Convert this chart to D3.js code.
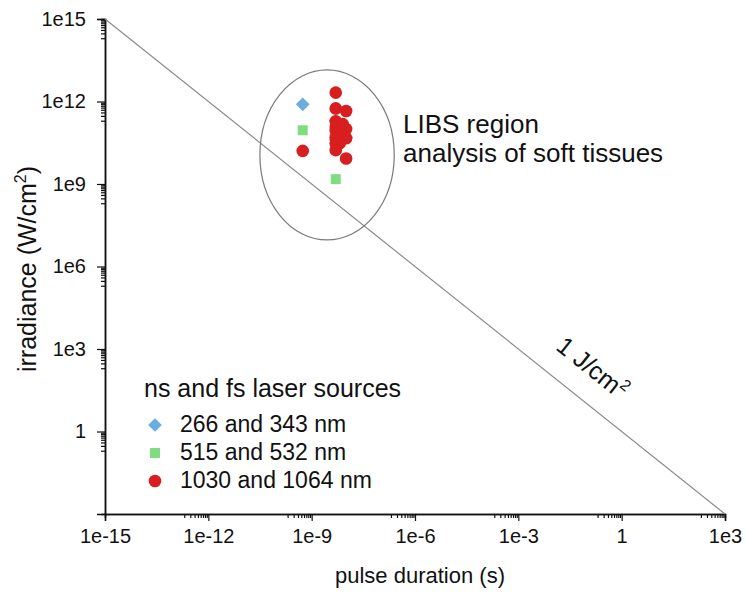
<!DOCTYPE html>
<html>
<head>
<meta charset="utf-8">
<script src="https://cdn.jsdelivr.net/npm/d3@7"></script>
<style>
  body { margin: 0; background: #fff; }
  svg text { font-family: "Liberation Sans", Arial, sans-serif; fill: #111; }
</style>
</head>
<body>
<div id="container"></div>
<script>
// tick values (log axes, a major tick every 3 decades)
const xTicks = [1e-15, 1e-12, 1e-9, 1e-6, 1e-3, 1, 1e3];
const xTickLabels = ['1e-15', '1e-12', '1e-9', '1e-6', '1e-3', '1', '1e3'];
const yTicks = [1e15, 1e12, 1e9, 1e6, 1e3, 1];
const yTickLabels = ['1e15', '1e12', '1e9', '1e6', '1e3', '1'];

// 266 and 343 nm (some hidden under the red points)
const uvPulse = [5.5e-10, 5e-9, 5e-9, 1e-8];
const uvIrr   = [7.9e11, 2e11, 4e10, 5e10];
// 515 and 532 nm
const greenPulse = [5.5e-10, 5e-9];
const greenIrr   = [9e10, 1.5e9];
// 1030 and 1064 nm
const irPulse = [5.5e-10, 5e-9, 5e-9, 1e-8, 5e-9, 1e-8, 5e-9, 6e-9, 1e-8, 5e-9, 6.5e-9, 5e-9, 1e-8, 5e-9, 6e-9, 8e-9, 5e-9];
const irIrr   = [1.6e10, 2.1e12, 5.6e11, 4.5e11, 1.9e11, 1e11, 9e10, 5.3e10, 4.6e10, 3e10, 3e10, 1.7e10, 8.5e9, 1.2e11, 7e10, 1.5e11, 5e10];

// 1 J/cm2 line
const fluencePulse = [1e-15, 1e3];
const fluenceIrr   = [1e15, 1e-3];

// LIBS region ellipse: centre and half-size in decades
const regionCentre = [2.8e-9, 1.14e10];
const regionHalfDecades = [1.95, 3.09];

const legendNames = ['266 and 343 nm', '515 and 532 nm', '1030 and 1064 nm'];
const colors = ['#6aaee0', '#80dc80', '#d81e1e'];

const width = 745, height = 594;

const svg = d3.select('#container')
              .append('svg')
              .attr('width', width)
              .attr('height', height);

const x = d3.scaleLog().domain([1e-15, 1e3]).range([105, 725]);
const y = d3.scaleLog().domain([1e-3, 1e15]).range([514, 19]);

// minor ticks: 2..9 of the decade just below each major tick
const minorTicks = majors => majors.flatMap(m => d3.range(2, 10).map(k => k * m / 10));

//x axis
const xAxis = svg.append('g').attr('transform', `translate(0,${y(1e-3)})`);
xAxis.call(d3.axisBottom(x).tickValues(minorTicks(xTicks.slice(1))).tickSize(4).tickFormat(''));
xAxis.append('g')
     .call(d3.axisBottom(x).tickValues(xTicks).tickSize(7).tickFormat((d, i) => xTickLabels[i]).tickPadding(8));
xAxis.selectAll('.domain').attr('stroke', '#111').attr('stroke-width', 1.5);
xAxis.selectAll('line').attr('stroke', '#111').attr('stroke-width', 1.2);
xAxis.selectAll('text').style('font-size', '20px').attr('fill', '#111');

//y axis
const yAxis = svg.append('g').attr('transform', `translate(${x(1e-15)},0)`);
yAxis.call(d3.axisLeft(y).tickValues(minorTicks(yTicks)).tickSize(4).tickFormat(''));
yAxis.append('g')
     .call(d3.axisLeft(y).tickValues(yTicks).tickSize(8).tickFormat((d, i) => yTickLabels[i]).tickPadding(11));
yAxis.selectAll('.domain').attr('stroke', '#111').attr('stroke-width', 1.5);
yAxis.selectAll('line').attr('stroke', '#111').attr('stroke-width', 1.2);
yAxis.selectAll('text').style('font-size', '20px').attr('fill', '#111');

//axis titles
svg.append('text')
   .attr('x', 420)
   .attr('y', 583)
   .attr('text-anchor', 'middle')
   .style('font-size', '22px')
   .text('pulse duration (s)');

const yTitle = svg.append('text')
   .attr('transform', `translate(36,269) rotate(-90)`)
   .attr('text-anchor', 'middle')
   .style('font-size', '25px');
yTitle.append('tspan').text('irradiance (W/cm');
yTitle.append('tspan').attr('dy', -10).style('font-size', '16px').text('2');
yTitle.append('tspan').attr('dy', 10).text(')');

//1 J/cm2 line
svg.append('line')
   .attr('x1', x(fluencePulse[0])).attr('y1', y(fluenceIrr[0]))
   .attr('x2', x(fluencePulse[1])).attr('y2', y(fluenceIrr[1]))
   .attr('stroke', '#8a8a8a')
   .attr('stroke-width', 1.2);

const angle = Math.atan2(y(fluenceIrr[1]) - y(fluenceIrr[0]), x(fluencePulse[1]) - x(fluencePulse[0])) * 180 / Math.PI;
const labelT = 0.038;
const lx = x(labelT), ly = y(1 / labelT);
const off = 23;
const rad = angle * Math.PI / 180;
const fl = svg.append('text')
   .attr('transform', `translate(${lx + off * Math.sin(rad)},${ly - off * Math.cos(rad)}) rotate(${angle})`)
   .attr('text-anchor', 'middle')
   .style('font-size', '25px');
fl.append('tspan').text('1 J/cm');
fl.append('tspan').attr('dy', -10).style('font-size', '16px').text('2');

//LIBS region
const cx = x(regionCentre[0]), cy = y(regionCentre[1]);
svg.append('ellipse')
   .attr('cx', cx).attr('cy', cy)
   .attr('rx', x(regionCentre[0] * Math.pow(10, regionHalfDecades[0])) - cx)
   .attr('ry', cy - y(regionCentre[1] * Math.pow(10, regionHalfDecades[1])))
   .attr('fill', 'none')
   .attr('stroke', '#7a7a7a')
   .attr('stroke-width', 1.2);

svg.append('text').attr('x', 403).attr('y', 133).style('font-size', '26px').text('LIBS region');
svg.append('text').attr('x', 403).attr('y', 162).style('font-size', '26px').text('analysis of soft tissues');

//points
const diamond = d3.symbol().type(d3.symbolDiamond2).size(120);
const square = d3.symbol().type(d3.symbolSquare).size(100);
const circle = d3.symbol().type(d3.symbolCircle).size(125);
const shapes = [diamond, square, circle];

svg.append('g').selectAll('path')
   .data(uvPulse)
   .enter()
   .append('path')
   .attr('d', diamond)
   .attr('transform', (d, i) => `translate(${x(d)},${y(uvIrr[i])})`)
   .attr('fill', colors[0]);

svg.append('g').selectAll('path')
   .data(greenPulse)
   .enter()
   .append('path')
   .attr('d', square)
   .attr('transform', (d, i) => `translate(${x(d)},${y(greenIrr[i])})`)
   .attr('fill', colors[1]);

svg.append('g').selectAll('path')
   .data(irPulse)
   .enter()
   .append('path')
   .attr('d', circle)
   .attr('transform', (d, i) => `translate(${x(d)},${y(irIrr[i])})`)
   .attr('fill', colors[2]);

//legend
svg.append('text').attr('x', 144).attr('y', 397).style('font-size', '25px').text('ns and fs laser sources');
const legend = svg.append('g').selectAll('g')
   .data(legendNames)
   .enter()
   .append('g')
   .attr('transform', (d, i) => `translate(155,${425 + i * 28})`);
legend.append('path')
      .attr('d', (d, i) => shapes[i]())
      .attr('fill', (d, i) => colors[i]);
legend.append('text')
      .attr('x', 25)
      .attr('y', 7)
      .style('font-size', '23px')
      .text(d => d);
</script>
</body>
</html>
